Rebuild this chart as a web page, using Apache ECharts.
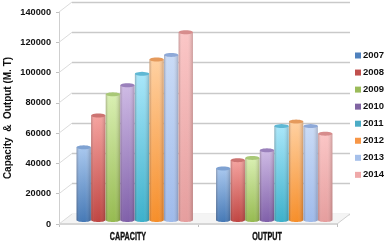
<!DOCTYPE html>
<html><head><meta charset="utf-8">
<style>html,body{margin:0;padding:0;background:#fff}#c{width:387px;height:244px}</style>
<script src="https://cdn.jsdelivr.net/npm/echarts@6/dist/echarts.min.js"></script>
</head><body><div id="c"></div>
<script>
const categories = ['CAPACITY', 'OUTPUT'];
const years = ['2007','2008','2009','2010','2011','2012','2013','2014'];
const v2007 = [48000, 34000];
const v2008 = [69000, 39500];
const v2009 = [83000, 41000];
const v2010 = [89000, 46000];
const v2011 = [96500, 62000];
const v2012 = [106000, 65000];
const v2013 = [109000, 62000];
const v2014 = [124000, 57000];
const seriesValues = [v2007, v2008, v2009, v2010, v2011, v2012, v2013, v2014];
const yTicks = [0,20000,40000,60000,80000,100000,120000,140000];
const legendColors = ['#4f81bd','#c0504d','#9bbb59','#8064a2','#4bacc6','#f79646','#a6c0ea','#efa9a9'];
const topColors   = ['#a6c6ee','#f5a09c','#d8efb0','#cdb8e4','#a6e6fa','#ffcf9e','#c8daf6','#fbc4c4'];
const botColors   = ['#3f74b3','#bd3f3c','#92b84a','#7b5aa6','#35aec9','#f68a22','#9bb8ea','#e49a9a'];
const capColors   = ['#7fa2d2','#cc7472','#a9c877','#9a80bb','#5fb8d4','#e59a5c','#8ea9d8','#d78d8d'];
const depthX = 13, depthY = 10;
const sans = '"Liberation Sans",sans-serif';

function ell(cx, cy, rx, ry, a0, a1, n) {
  const p = [];
  for (let i = 0; i <= n; i++) {
    const a = a0 + (a1 - a0) * i / n;
    p.push([cx + rx * Math.cos(a), cy + ry * Math.sin(a)]);
  }
  return p;
}
function cylinder(idx) {
  return function (params, api) {
    const cat = api.value(0), val = api.value(1);
    const band = api.size([1, 0])[0];
    const w = band * 0.1045;
    const base = api.coord([cat, 0]);
    const top = api.coord([cat, val]);
    const cx = base[0] + (idx - 3.5) * w;
    const rx = w / 2 - 0.15, ry = 2;
    const bodyPts = [[cx - rx, top[1]]].concat(ell(cx, base[1], rx, ry, Math.PI, 0, 16)).concat([[cx + rx, top[1]]]);
    return {
      type: 'group',
      children: [
        { type: 'polygon', shape: { points: bodyPts }, style: {
            fill: new echarts.graphic.LinearGradient(0, 0, 0, 1, [
              { offset: 0, color: topColors[idx] },
              { offset: 1, color: botColors[idx] }]) } },
        { type: 'polygon', shape: { points: bodyPts }, style: {
            fill: new echarts.graphic.LinearGradient(0, 0, 1, 0, [
              { offset: 0, color: 'rgba(60,40,40,0.3)' },
              { offset: 0.22, color: 'rgba(255,255,255,0.05)' },
              { offset: 0.6, color: 'rgba(255,255,255,0.03)' },
              { offset: 1, color: 'rgba(60,40,40,0.25)' }]) } },
        { type: 'polygon', shape: { points: ell(cx, top[1], rx, ry, 0, Math.PI * 2, 24) },
          style: { fill: capColors[idx] } }
      ]
    };
  };
}
const wall = {
  type: 'custom', xAxisIndex: 0, yAxisIndex: 0, silent: true, z: 1,
  data: yTicks.map(v => [0, v]),
  clip: false,
  renderItem(params, api) {
    const cs = params.coordSys;
    const y = api.coord([0, api.value(1)])[1];
    const x0 = cs.x, x1 = cs.x + cs.width;
    const kids = [{ type: 'line', shape: { x1: x0, y1: y, x2: x0 + depthX, y2: y - depthY },
      style: { stroke: '#dcdcdc', lineWidth: 1 } }];
    if (params.dataIndex === 0) {
      kids.unshift({ type: 'polygon', shape: { points: [[x0, y], [x0 + depthX, y - depthY], [x1 + depthX, y - depthY], [x1, y]] },
        style: { fill: '#f4f4f4' } });
      kids.push({ type: 'polygon', shape: { points: [[x0, y - 1], [x1, y - 1], [x1, y + 1], [x0, y + 1]] }, style: { fill: '#d6d6d6' } });
      kids.push({ type: 'line', shape: { x1: x1, y1: y, x2: x1 + depthX, y2: y - depthY }, style: { stroke: '#cfcfcf', lineWidth: 1 } });
    }
    return { type: 'group', children: kids };
  }
};
const catLabels = {
  type: 'custom', xAxisIndex: 0, yAxisIndex: 0, silent: true, z: 5, clip: false,
  data: categories.map((c, i) => [i, 0]),
  renderItem(params, api) {
    const p = api.coord([api.value(0), 0]);
    return { type: 'text', x: p[0] - 0.5, y: p[1] + 13, scaleX: 0.72, scaleY: 1,
      style: { text: categories[params.dataIndex], font: 'bold 10px "Liberation Sans"', fill: '#111', stroke: '#111', lineWidth: 0.35, align: 'center', verticalAlign: 'middle' } };
  }
};
const axisHidden = { show: false };
const option = {
  animation: false,
  backgroundColor: '#fff',
  textStyle: { fontFamily: sans },
  legend: {
    orient: 'vertical', left: 355, top: 50.5, padding: 0, itemWidth: 6, itemHeight: 6, itemGap: 7.05,
    icon: 'rect', data: years,
    textStyle: { fontFamily: sans, fontWeight: 'bold', fontSize: 9.5, color: '#111', padding: [0, 0, 0, -3] }
  },
  grid: [
    { left: 59, top: 12, width: 278, height: 212, outerBoundsMode: 'none' },
    { left: 72, top: 2, width: 278, height: 212, outerBoundsMode: 'none' },
    { left: 65, top: 8, width: 279, height: 212, outerBoundsMode: 'none' }
  ],
  xAxis: [
    { gridIndex: 0, type: 'category', data: categories,
      axisLine: { lineStyle: { color: '#c8c8c8' } },
      axisTick: { show: true, length: 3, lineStyle: { color: '#c0c0c0' } },
      axisLabel: { show: false } },
    { gridIndex: 1, type: 'category', data: categories, axisLine: axisHidden, axisTick: axisHidden, axisLabel: axisHidden },
    { gridIndex: 2, type: 'category', data: categories, axisLine: axisHidden, axisTick: axisHidden, axisLabel: axisHidden }
  ],
  yAxis: [
    { gridIndex: 0, type: 'value', min: 0, max: 140000, interval: 20000,
      name: 'Capacity  &  Output (M. T)', nameLocation: 'middle', nameRotate: 90, nameGap: 46, nameMoveOverlap: false,
      nameTextStyle: { color: '#111', fontFamily: sans, fontWeight: 'bold', fontSize: 10 },
      axisLine: { show: true, lineStyle: { color: '#cfcfcf' } },
      axisTick: { show: true, length: 3, lineStyle: { color: '#c0c0c0' } },
      splitLine: axisHidden,
      axisLabel: { color: '#111', fontFamily: sans, fontWeight: 'bold', fontSize: 9.2, margin: 8, formatter: v => String(v) } },
    { gridIndex: 1, type: 'value', min: 0, max: 140000, interval: 20000, axisLine: axisHidden, axisTick: axisHidden, axisLabel: axisHidden,
      splitLine: { show: true, lineStyle: { color: '#c9c9c9', width: 1.3 } } },
    { gridIndex: 2, type: 'value', min: 0, max: 140000, interval: 20000, axisLine: axisHidden, axisTick: axisHidden, axisLabel: axisHidden, splitLine: axisHidden }
  ],
  series: [wall, catLabels].concat(years.map((y, i) => ({
    name: y, type: 'custom', xAxisIndex: 2, yAxisIndex: 2, z: 3, clip: false,
    itemStyle: { color: legendColors[i] },
    encode: { x: 0, y: 1 },
    data: seriesValues[i].map((v, k) => [k, v]),
    renderItem: cylinder(i)
  })))
};
echarts.init(document.getElementById('c'), null, { renderer: 'canvas' }).setOption(option);
</script></body></html>
